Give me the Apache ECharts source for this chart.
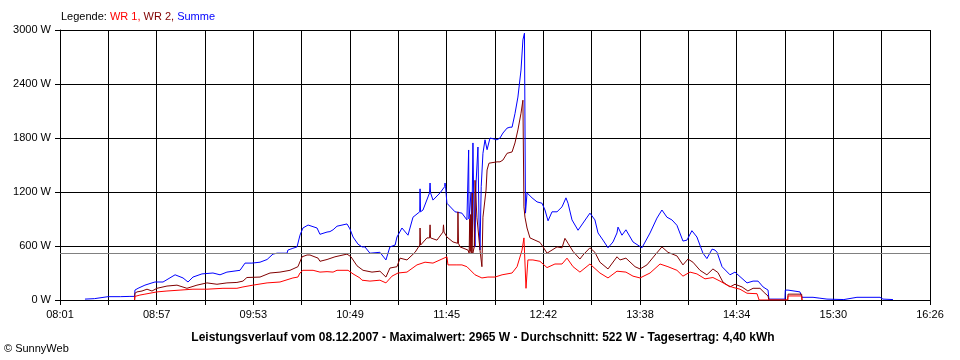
<!DOCTYPE html>
<html><head><meta charset="utf-8">
<script src="https://cdn.jsdelivr.net/npm/echarts@6/dist/echarts.min.js"></script>
<style>html,body{margin:0;padding:0;background:#fff}#c{width:960px;height:360px}</style>
</head><body><div id="c"></div>
<script>
// time axis: minutes after 08:01 (08:01 .. 16:26)
const startMinute = 8 * 60 + 1;
const spanMinutes = 505;
const tickCount = 18;
const yMax = 3000;
const yStep = 600;
const average = 522;
const seriesNames = ['WR 1', 'WR 2', 'Summe'];
const legendPrefix = 'Legende: ';
const footerText = 'Leistungsverlauf vom 08.12.2007 - Maximalwert: 2965 W - Durchschnitt: 522 W - Tagesertrag: 4,40 kWh';
const copyrightText = '\u00A9 SunnyWeb';

// [minutes after 08:01, W]
const summe = [[14.5,10],[20,15],[27.9,37],[35,37],[40.6,40],[43.3,40],[43.5,110],[45.3,130],[49.3,165],[53.4,190],[55.1,200],[59.8,200],[66.8,280],[71.4,245],[74.3,200],[77.2,255],[82.4,290],[88.8,300],[92.9,280],[96.9,310],[104.5,330],[107.4,410],[111.4,410],[116.1,420],[120.2,450],[123.6,510],[126,520],[131.8,520],[132.3,555],[135.2,575],[137.6,590],[139.3,720],[141,800],[144,833],[149.2,800],[150.9,730],[155,755],[156.7,760],[158.5,780],[160.8,820],[161.4,833],[166.6,845],[168.3,790],[170.1,700],[173,620],[175.3,590],[177,590],[179.9,520],[185.7,530],[189.2,445],[191.5,590],[194.5,610],[195.6,700],[198.5,800],[202,720],[204.9,920],[208.8,980],[209,1235],[209.3,980],[210.7,1000],[214.5,1190],[214.8,1300],[215.1,1190],[216.5,1110],[220.6,1190],[223.3,1260],[223.5,1300],[223.8,1260],[224.6,1075],[229.3,980],[233.3,965],[236.2,890],[237,900],[237.2,1667],[237.4,900],[238,920],[238.6,1200],[239,700],[239.7,1745],[240.3,900],[240.9,590],[241.5,1300],[242.6,1700],[243.2,900],[243.8,555],[244.5,1260],[245.5,1630],[246.7,1780],[247.9,1670],[249.6,1800],[253.7,1780],[255.4,1800],[257.1,1855],[259.5,1910],[261.2,1920],[262.4,1920],[264.1,2070],[265.8,2255],[267.6,2555],[268.7,2890],[269.6,2965],[270.2,965],[271.1,1190],[271.6,1190],[274,1135],[276.9,1090],[279.8,1075],[281.5,1000],[283.3,880],[285.6,980],[288.5,980],[291.4,1035],[293.7,1135],[294.9,1075],[297.2,890],[300.7,775],[303.6,855],[307.6,965],[310.5,890],[312.3,745],[315.2,665],[318.1,580],[321,645],[323.3,745],[323.9,810],[326.2,720],[328.5,780],[332.6,645],[337.8,580],[342.5,745],[346.5,910],[349.4,1000],[352.3,920],[355.2,890],[358.1,830],[361.6,655],[363.9,665],[366.8,770],[369.7,700],[373.2,520],[375.5,460],[378.5,565],[380.2,555],[381.4,530],[384.3,370],[388.9,280],[391.8,310],[394.7,260],[398.8,190],[402.3,210],[405.2,210],[408.1,145],[411,110],[411.5,10],[420.8,10],[421,110],[422.6,110],[429.5,90],[430.7,30],[437.1,30],[441.1,20],[445.2,10],[455,5],[462.6,30],[476,30],[477.7,10],[483.5,5]];

const wr2 = [[43.3,0],[43.5,75],[44.7,90],[47.6,100],[50.5,120],[53.4,100],[56.3,130],[62.1,155],[67.9,165],[73.7,130],[79.5,165],[85.3,190],[91.1,175],[96.9,190],[102.7,195],[106.2,210],[108.5,250],[116.1,255],[121.9,300],[127.7,310],[133.5,330],[138.1,370],[140.5,480],[143.4,500],[145.1,500],[149.8,465],[150.9,430],[155,450],[159.6,480],[166.6,510],[168.9,480],[172.4,380],[175.9,330],[181.1,310],[185.7,320],[189.2,255],[191.5,355],[195.6,370],[197.4,465],[201.4,445],[206.1,530],[208.8,610],[209,800],[209.3,610],[213,690],[214.5,690],[214.8,835],[215.1,690],[218.8,665],[222.3,755],[222.6,835],[222.9,755],[224.6,700],[228.1,645],[230.8,630],[231,980],[231.3,630],[232.2,590],[236.8,555],[237.5,520],[237.8,900],[238.1,540],[238.4,950],[238.7,520],[239,520],[239.3,1190],[239.6,520],[240.6,600],[240.9,1330],[242,920],[243.8,555],[244.9,370],[245.5,920],[247.3,1220],[247.9,1445],[249,1520],[253.7,1535],[255.4,1535],[257.1,1555],[259.5,1630],[262.4,1645],[264.1,1745],[265.8,1890],[267.6,2075],[268.7,2220],[269.3,1035],[269.9,920],[271.1,800],[272.8,690],[275.7,665],[278.6,640],[280.4,590],[282.7,520],[285.6,555],[288.5,590],[291.4,580],[293.1,685],[294.9,630],[297.8,540],[301.8,455],[303.6,500],[307.6,580],[310.5,530],[313.4,420],[318.1,345],[323.3,480],[325.1,445],[328.5,465],[333.8,370],[336.7,345],[340.7,390],[345.4,500],[349.4,590],[352.9,530],[358.1,490],[361.6,390],[364.5,455],[367.4,420],[371.5,330],[375.5,280],[379,345],[381.9,305],[384.8,200],[388.9,145],[391.8,175],[395.9,145],[399.3,100],[402.3,130],[406.3,130],[409.2,75],[411,45],[411.5,0],[422.4,0],[422.6,65],[430.5,65],[430.7,0]];

const wr1 = [[43.3,0],[43.5,40],[46.4,55],[49.3,65],[56.3,90],[62.1,100],[69.7,110],[77.2,120],[85.3,120],[94.6,130],[102.7,130],[106.2,145],[112,165],[120.2,190],[127.7,200],[135.2,245],[138.1,255],[139.3,300],[141,330],[146.9,330],[150.9,310],[155,315],[158.5,310],[160.8,330],[167.2,330],[170.1,290],[174.1,245],[175.3,220],[179.9,210],[185.7,220],[189.2,190],[192.7,265],[196.2,300],[201.4,310],[207.2,390],[211.9,420],[216.5,410],[221.7,455],[224.6,480],[225.2,390],[230.4,390],[233.3,390],[236.2,370],[240.9,280],[244.9,245],[248.4,255],[252.5,255],[256.6,280],[262.4,300],[265.3,370],[268.2,555],[269.3,690],[269.8,700],[270.5,130],[271.6,445],[274.5,445],[278.6,430],[282.7,360],[287.3,400],[291.4,400],[294.3,465],[297.8,370],[301.8,310],[307.6,400],[313.4,300],[318.1,245],[323.3,320],[328.5,310],[332.6,265],[336.7,245],[342.5,300],[348.3,400],[352.9,370],[358.1,330],[361.6,265],[365.7,310],[369.7,290],[374.4,235],[379,250],[383.1,210],[387.2,165],[390.6,140],[394.7,120],[398.8,75],[404.6,70],[405.7,65],[405.8,0],[422.4,0],[422.6,45],[430.5,45],[430.7,0]];

const colors = ['#ff0000', '#800000', '#0000ff'];
const FONT = '"Liberation Sans", Arial, sans-serif';

function fmtTime(v) {
  const m = Math.round(startMinute + v);
  const h = Math.floor(m / 60), mm = m % 60;
  return (h < 10 ? '0' : '') + h + ':' + (mm < 10 ? '0' : '') + mm;
}

const chart = echarts.init(document.getElementById('c'), null, { renderer: 'canvas' });
const lineSeries = (name, data, color, extra) => Object.assign({
  name, type: 'line', data, showSymbol: false, symbol: 'none', animation: false,
  lineStyle: { color, width: 1 }, itemStyle: { color }, sampling: null, silent: true
}, extra || {});

chart.setOption({
  animation: false,
  backgroundColor: '#fff',
  grid: { left: 60, right: 30, top: 30, bottom: 60 },
  title: {
    left: 61, top: 11, padding: 0,
    text: '{k|' + legendPrefix + '}{a|' + seriesNames[0] + ',} {b|' + seriesNames[1] + ',} {c|' + seriesNames[2] + '}',
    textStyle: {
      fontSize: 11, fontFamily: FONT, fontWeight: 'normal',
      rich: {
        k: { color: '#000', fontSize: 11, fontFamily: FONT },
        a: { color: colors[0], fontSize: 11, fontFamily: FONT },
        b: { color: colors[1], fontSize: 11, fontFamily: FONT },
        c: { color: colors[2], fontSize: 11, fontFamily: FONT }
      }
    }
  },
  graphic: [
    { type: 'text', x: 483, y: 338, style: { text: footerText, textAlign: 'center', textVerticalAlign: 'middle', font: 'bold 12px ' + FONT, fill: '#000' } },
    { type: 'text', x: 4, y: 349, style: { text: copyrightText, textAlign: 'left', textVerticalAlign: 'middle', font: '11px ' + FONT, fill: '#000' } }
  ],
  xAxis: {
    type: 'value', min: 0, max: spanMinutes, interval: spanMinutes / tickCount,
    axisLine: { show: true, lineStyle: { color: '#000', width: 1 } },
    axisTick: { show: true, length: 5, lineStyle: { color: '#000' } },
    splitLine: { show: true, lineStyle: { color: '#000', width: 1 } },
    axisLabel: {
      margin: 9, color: '#000', fontSize: 11, fontFamily: FONT,
      formatter: (v, i) => (i % 2 === 0 ? fmtTime(v) : '')
    }
  },
  yAxis: {
    type: 'value', min: 0, max: yMax, interval: yStep,
    axisLine: { show: true, lineStyle: { color: '#000', width: 1 } },
    axisTick: { show: true, length: 5, lineStyle: { color: '#000' } },
    splitLine: { show: true, lineStyle: { color: '#000', width: 1 } },
    axisLabel: { margin: 9, color: '#000', fontSize: 11, fontFamily: FONT, formatter: v => v + ' W' }
  },
  series: [
    lineSeries(seriesNames[2], summe, colors[2], {
      z: 2,
      markLine: {
        silent: true, symbol: 'none', animation: false, label: { show: false },
        lineStyle: { color: '#808080', type: 'solid', width: 1 },
        data: [{ yAxis: average }]
      }
    }),
    lineSeries(seriesNames[1], wr2, colors[1], { z: 3 }),
    lineSeries(seriesNames[0], wr1, colors[0], { z: 4 })
  ]
});
</script>
</body></html>
